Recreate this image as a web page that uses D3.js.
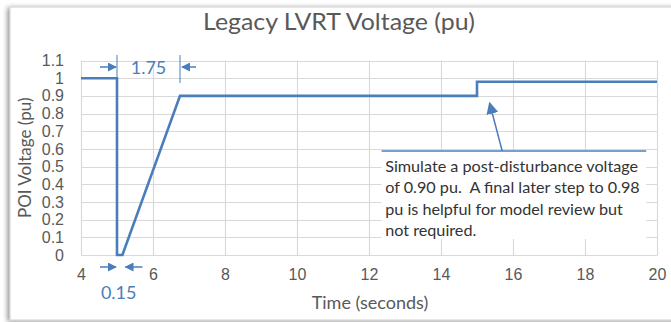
<!DOCTYPE html>
<html>
<head>
<meta charset="utf-8">
<script src="https://cdn.jsdelivr.net/npm/d3@7/dist/d3.min.js"></script>
<style>
  html, body { margin: 0; padding: 0; background: #fff; }
  svg { display: block; font-family: Lato, "Open Sans", sans-serif; }
</style>
</head>
<body>
<svg id="chart" width="671" height="322"></svg>
<script>
// Voltage profile (time in seconds, voltage in pu)
const timeValues    = [4, 5, 5, 5.15, 6.75, 15, 15, 20];
const voltageValues = [1, 1, 0, 0, 0.9, 0.9, 0.98, 0.98];
const xTicks = [4, 6, 8, 10, 12, 14, 16, 18, 20];
const yTicks = [0, 0.1, 0.2, 0.3, 0.4, 0.5, 0.6, 0.7, 0.8, 0.9, 1, 1.1];
const titleText = "Legacy LVRT Voltage (pu)";
const xTitle = "Time (seconds)";
const yTitle = "POI Voltage (pu)";
const noteLines = [
  "Simulate a post-disturbance voltage",
  "of 0.90 pu.  A final later step to 0.98",
  "pu is helpful for model review but",
  "not required."
];
const faultStart = 5, faultDuration = 0.15, recoveryTime = 1.75;

const blue = "#4a7ebb";
const gridColor = "#d9d9d9";
const textGray = "#595959";

const svg = d3.select("#chart");

// drop shadow for the chart frame
const defs = svg.append("defs");
const f = defs.append("filter").attr("id", "shadow")
  .attr("x", "-5%").attr("y", "-5%").attr("width", "110%").attr("height", "110%");
f.append("feGaussianBlur").attr("in", "SourceAlpha").attr("stdDeviation", 2.5);
f.append("feOffset").attr("dx", -2).attr("dy", 1).attr("result", "b");
f.append("feComponentTransfer").append("feFuncA").attr("type", "linear").attr("slope", 0.45);
const fm = f.append("feMerge");
fm.append("feMergeNode");
fm.append("feMergeNode").attr("in", "SourceGraphic");

defs.append("marker").attr("id", "arrow")
  .attr("viewBox", "0 0 10 10").attr("refX", 9).attr("refY", 5)
  .attr("markerWidth", 9).attr("markerHeight", 9).attr("markerUnits", "userSpaceOnUse")
  .attr("orient", "auto")
  .append("path").attr("d", "M0,0 L10,5 L0,10 z").attr("fill", blue);

defs.append("marker").attr("id", "arrowBig")
  .attr("viewBox", "0 0 10 10").attr("refX", 9).attr("refY", 5)
  .attr("markerWidth", 12).attr("markerHeight", 12).attr("markerUnits", "userSpaceOnUse")
  .attr("orient", "auto")
  .append("path").attr("d", "M0,0 L10,5 L0,10 z").attr("fill", blue);

svg.append("rect")
  .attr("x", 10).attr("y", 7).attr("width", 680).attr("height", 313)
  .attr("fill", "#fff").attr("stroke", "#d0d0d0").attr("stroke-width", 1)
  .attr("filter", "url(#shadow)");

const x = d3.scaleLinear().domain([4, 20]).range([81, 657]);
const y = d3.scaleLinear().domain([0, 1.1]).range([255, 60.5]);

// gridlines
svg.append("g").selectAll("line").data(yTicks).join("line")
  .attr("x1", x(4)).attr("x2", x(20))
  .attr("y1", d => Math.round(y(d)) + 0.5).attr("y2", d => Math.round(y(d)) + 0.5)
  .attr("stroke", gridColor).attr("stroke-width", 1.2);
svg.append("g").selectAll("line").data(xTicks).join("line")
  .attr("x1", d => Math.round(x(d)) + 0.5).attr("x2", d => Math.round(x(d)) + 0.5)
  .attr("y1", y(0)).attr("y2", y(1.1))
  .attr("stroke", gridColor).attr("stroke-width", 1.2);

// axes (labels only, Excel-style)
const xAxis = svg.append("g").attr("transform", `translate(0,${y(0)})`)
  .call(d3.axisBottom(x).tickValues(xTicks).tickSize(0).tickPadding(14).tickFormat(d3.format("d")));
xAxis.select(".domain").attr("stroke", gridColor).attr("stroke-width", 1.2);
xAxis.selectAll("text").attr("fill", textGray).attr("font-size", 16);

const yAxis = svg.append("g").attr("transform", `translate(${x(4)},0)`)
  .call(d3.axisLeft(y).tickValues(yTicks).tickSize(0).tickPadding(17).tickFormat(d => d3.format("")(+d.toFixed(1))));
yAxis.select(".domain").remove();
yAxis.selectAll("text").attr("fill", textGray).attr("font-size", 16);

// titles
svg.append("text").attr("x", 339).attr("y", 30).attr("text-anchor", "middle")
  .attr("font-size", 24).attr("fill", textGray)
  .attr("textLength", 272).attr("lengthAdjust", "spacingAndGlyphs").text(titleText);
svg.append("text").attr("x", x(12) + 1).attr("y", 309).attr("text-anchor", "middle")
  .attr("font-size", 18).attr("fill", textGray).text(xTitle);
svg.append("text").attr("transform", `translate(31,${y(0.55)}) rotate(-90)`)
  .attr("text-anchor", "middle").attr("font-size", 17).attr("fill", textGray).text(yTitle);

// callout box with note
const boxTop = 151;
svg.append("rect").attr("x", x(12.35)).attr("y", boxTop)
  .attr("width", x(19.7) - x(12.35)).attr("height", 88).attr("fill", "#fff");
svg.append("line").attr("x1", x(12.35)).attr("x2", x(19.7)).attr("y1", boxTop).attr("y2", boxTop)
  .attr("stroke", blue).attr("stroke-width", 1.5);
svg.append("line")
  .attr("x1", x(15.7)).attr("y1", boxTop)
  .attr("x2", x(15.35)).attr("y2", y(0.86))
  .attr("stroke", blue).attr("stroke-width", 1.5).attr("marker-end", "url(#arrowBig)");
svg.append("g").selectAll("text").data(noteLines).join("text")
  .attr("x", x(12.45)).attr("y", (d, i) => 172 + i * 21.3)
  .style("white-space", "pre")
  .attr("font-size", 16.2).attr("fill", "#333").text(d => d);

// voltage trace
const pts = timeValues.map((t, i) => [t, voltageValues[i]]);
svg.append("path").datum(pts)
  .attr("d", d3.line().x(d => x(d[0])).y(d => y(d[1])))
  .attr("fill", "none").attr("stroke", blue).attr("stroke-width", 2.6)
  .attr("stroke-linejoin", "miter");

// recovery-time dimension (1.75 s)
const recEnd = faultStart + recoveryTime;
const dimY = 67;
svg.append("line").attr("x1", x(faultStart)).attr("x2", x(faultStart))
  .attr("y1", 55).attr("y2", y(1)).attr("stroke", blue).attr("stroke-width", 1);
svg.append("line").attr("x1", x(recEnd)).attr("x2", x(recEnd))
  .attr("y1", 55).attr("y2", 83).attr("stroke", blue).attr("stroke-width", 1);
svg.append("line").attr("x1", x(faultStart) - 17).attr("x2", x(faultStart) - 1)
  .attr("y1", dimY).attr("y2", dimY).attr("stroke", blue).attr("stroke-width", 1.5)
  .attr("marker-end", "url(#arrow)");
svg.append("line").attr("x1", x(recEnd) + 16).attr("x2", x(recEnd) + 2)
  .attr("y1", dimY).attr("y2", dimY).attr("stroke", blue).attr("stroke-width", 1.5)
  .attr("marker-end", "url(#arrow)");
svg.append("text").attr("x", (x(faultStart) + x(recEnd)) / 2).attr("y", 74)
  .attr("text-anchor", "middle").attr("font-size", 18).attr("fill", blue).text(recoveryTime.toFixed(2));

// fault-duration dimension (0.15 s)
const fdY = 267;
svg.append("line").attr("x1", x(faultStart) - 17).attr("x2", x(faultStart) - 1)
  .attr("y1", fdY).attr("y2", fdY).attr("stroke", blue).attr("stroke-width", 1.5)
  .attr("marker-end", "url(#arrow)");
svg.append("line").attr("x1", x(faultStart + faultDuration) + 20).attr("x2", x(faultStart + faultDuration) + 3)
  .attr("y1", fdY).attr("y2", fdY).attr("stroke", blue).attr("stroke-width", 1.5)
  .attr("marker-end", "url(#arrow)");
svg.append("text").attr("x", x(faultStart + faultDuration / 2) - 1).attr("y", 299)
  .attr("text-anchor", "middle").attr("font-size", 18).attr("fill", blue).text(faultDuration.toFixed(2));
</script>
</body>
</html>
